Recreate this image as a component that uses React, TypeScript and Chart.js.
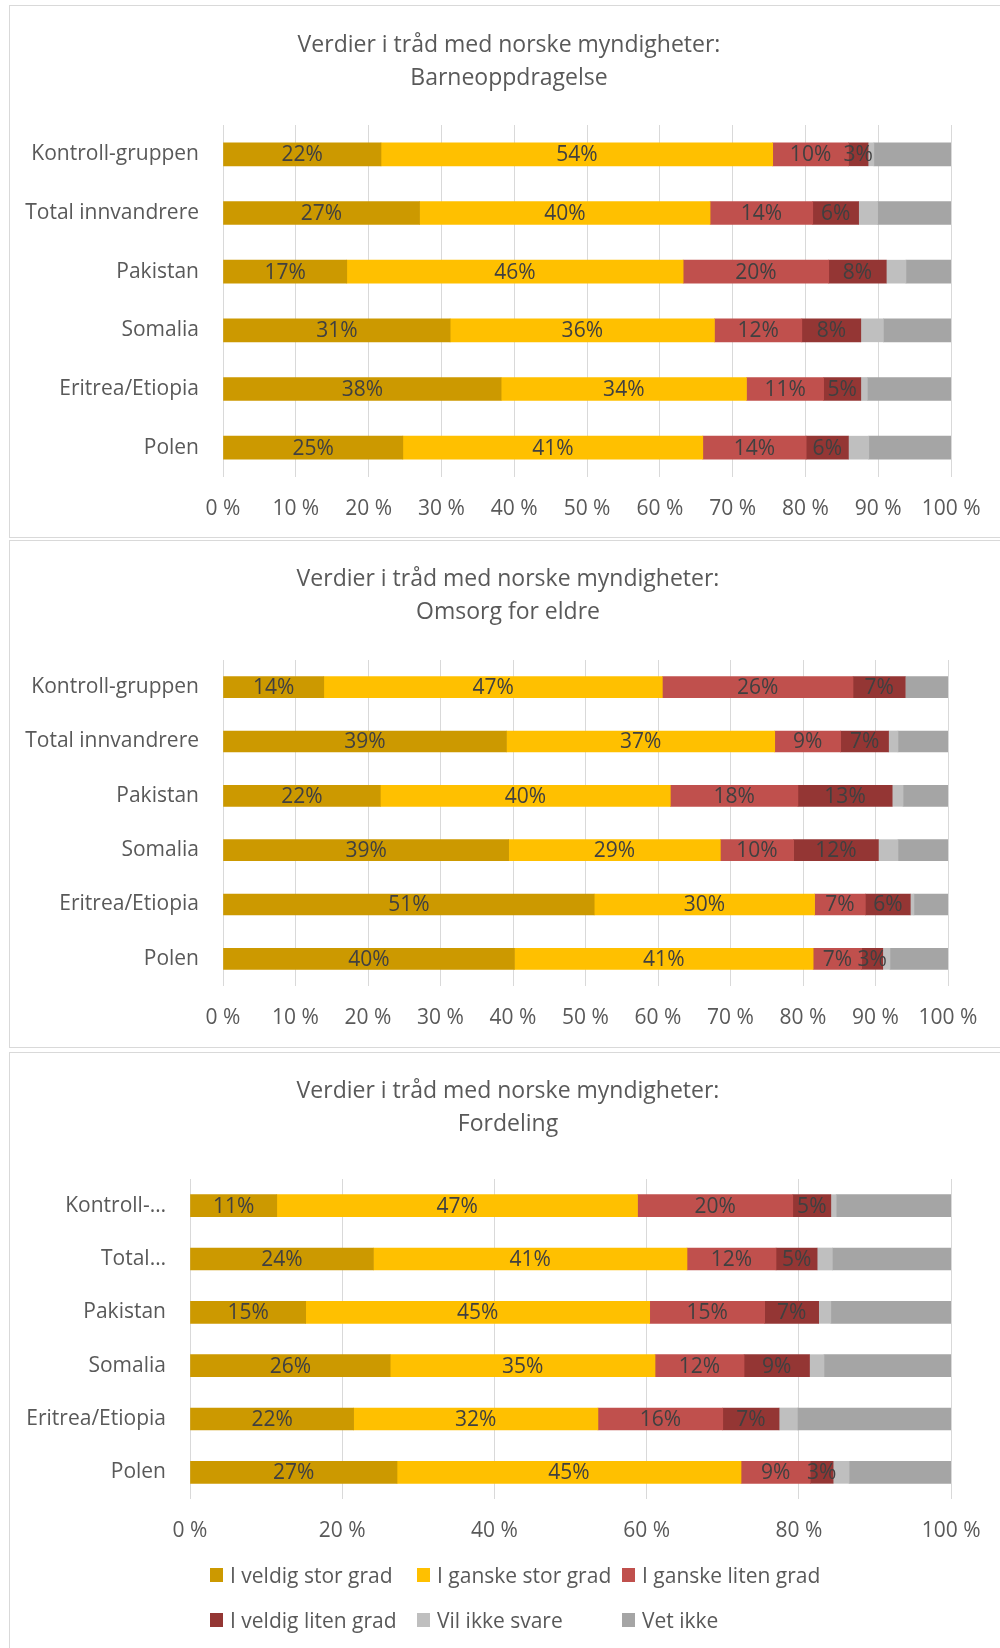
import React, { useEffect, useRef } from "react";
import { Chart, registerables } from "chart.js";

Chart.register(...registerables);

// ---------- data ----------
const categoriesFull = ["Kontroll-gruppen", "Total innvandrere", "Pakistan", "Somalia", "Eritrea/Etiopia", "Polen"];
const categoriesShort = ["Kontroll-…", "Total…", "Pakistan", "Somalia", "Eritrea/Etiopia", "Polen"];

const seriesNames = [
  "I veldig stor grad",
  "I ganske stor grad",
  "I ganske liten grad",
  "I veldig liten grad",
  "Vil ikke svare",
  "Vet ikke",
];
const seriesColors = ["#CC9900", "#FFC000", "#C0504D", "#943634", "#BFBFBF", "#A5A5A5"];

// Barneoppdragelse
const barneVeldigStor = [21.7, 27.0, 17.0, 31.2, 38.2, 24.7];
const barneGanskeStor = [53.8, 39.9, 46.2, 36.3, 33.7, 41.2];
const barneGanskeLiten = [10.4, 14.1, 20.0, 12.0, 10.6, 14.2];
const barneVeldigLiten = [2.7, 6.3, 7.9, 8.1, 5.1, 5.8];
const barneVilIkke = [0.8, 2.6, 2.7, 3.1, 0.9, 2.8];
const barneVetIkke = [10.6, 10.1, 6.2, 9.3, 11.5, 11.3];

// Omsorg for eldre
const omsorgVeldigStor = [13.9, 39.1, 21.7, 39.4, 51.2, 40.2];
const omsorgGanskeStor = [46.7, 37.0, 40.0, 29.2, 30.4, 41.2];
const omsorgGanskeLiten = [26.3, 9.1, 17.6, 10.1, 7.0, 6.7];
const omsorgVeldigLiten = [7.2, 6.6, 13.0, 11.7, 6.2, 2.9];
const omsorgVilIkke = [0.0, 1.3, 1.5, 2.7, 0.5, 1.0];
const omsorgVetIkke = [5.9, 6.9, 6.2, 6.9, 4.7, 8.0];

// Fordeling
const fordVeldigStor = [11.4, 24.1, 15.2, 26.3, 21.5, 27.2];
const fordGanskeStor = [47.4, 41.2, 45.2, 34.8, 32.1, 45.2];
const fordGanskeLiten = [20.4, 11.7, 15.1, 11.7, 16.4, 9.1];
const fordVeldigLiten = [5.0, 5.4, 7.1, 8.6, 7.4, 3.0];
const fordVilIkke = [0.7, 2.0, 1.6, 1.9, 2.4, 2.1];
const fordVetIkke = [15.1, 15.6, 15.8, 16.7, 20.2, 13.4];

const ticks10 = ["0 %", "10 %", "20 %", "30 %", "40 %", "50 %", "60 %", "70 %", "80 %", "90 %", "100 %"];
const ticks20 = ["0 %", "20 %", "40 %", "60 %", "80 %", "100 %"];

const titleLine1 = "Verdier i tråd med norske myndigheter:";

// ---------- styles ----------
const FONT = "'Open Sans', sans-serif";
const TEXT = "#595959";
const LABEL = "#404040";
const GRID = "#D9D9D9";

const dataLabelPlugin = {
  id: "segLabels",
  afterDatasetsDraw(chart: any) {
    const ctx = chart.ctx;
    ctx.save();
    ctx.font = `21px ${FONT}`;
    ctx.fillStyle = LABEL;
    ctx.textAlign = "center";
    ctx.textBaseline = "middle";
    chart.data.datasets.forEach((ds: any, di: number) => {
      if (di > 3) return;
      const meta = chart.getDatasetMeta(di);
      meta.data.forEach((el: any, i: number) => {
        const v = ds.data[i];
        if (v < 2.5) return;
        const cx = (el.x + el.base) / 2;
        ctx.fillText(Math.round(v) + "%", cx, el.y + 1);
      });
    });
    ctx.restore();
  },
};

const centerTitlePlugin = {
  id: "centerTitle",
  afterDraw(chart: any, _args: any, opts: any) {
    const ctx = chart.ctx;
    ctx.save();
    ctx.font = `23px ${FONT}`;
    ctx.fillStyle = TEXT;
    ctx.textAlign = "center";
    ctx.textBaseline = "middle";
    (opts.lines || []).forEach((t: string, i: number) => {
      ctx.fillText(t, opts.cx, opts.y0 + i * opts.lineHeight);
    });
    ctx.restore();
  },
};

type PanelSpec = {
  top: number;
  height: number;
  canvasHeight: number;
  title2: string;
  titleCx: number;
  titleY0: number;
  labels: string[];
  series: number[][];
  ticks: string[];
  step: number;
  yWidth: number;
  rightPad: number;
  topPad: number;
  xHeight: number;
  barThickness: number;
  legend?: boolean;
};

function Panel({ spec }: { spec: PanelSpec }) {
  const ref = useRef<HTMLCanvasElement | null>(null);
  useEffect(() => {
    if (!ref.current) return;
    const chart = new Chart(ref.current, {
      type: "bar",
      data: {
        labels: spec.labels,
        datasets: spec.series.map((s, i) => ({
          label: seriesNames[i],
          data: s,
          backgroundColor: seriesColors[i],
          borderWidth: 0,
          barThickness: spec.barThickness,
        })),
      },
      options: {
        indexAxis: "y",
        animation: false,
        responsive: false,
        maintainAspectRatio: false,
        layout: { padding: { left: 0, right: spec.rightPad, top: spec.topPad, bottom: 0 } },
        plugins: {
          legend: { display: false },
          tooltip: { enabled: false },
          title: { display: false },
          centerTitle: {
            lines: [titleLine1, spec.title2],
            cx: spec.titleCx,
            y0: spec.titleY0,
            lineHeight: 32.5,
          },
        } as any,
        scales: {
          x: {
            stacked: true,
            min: 0,
            max: 100,
            ticks: {
              stepSize: spec.step,
              color: TEXT,
              font: { family: FONT, size: 21 },
              padding: 19.5,
              maxRotation: 0,
              autoSkip: false,
              callback: (_v: any, i: number) => spec.ticks[i],
            },
            grid: { color: GRID, lineWidth: 1, drawTicks: false },
            border: { display: false },
            afterFit: (s: any) => {
              s.height = spec.xHeight;
            },
          },
          y: {
            stacked: true,
            ticks: { color: TEXT, font: { family: FONT, size: 21 }, padding: 24 },
            grid: { display: false, drawTicks: false },
            border: { display: false },
            afterFit: (s: any) => {
              s.width = spec.yWidth;
            },
          },
        },
      },
      plugins: [dataLabelPlugin, centerTitlePlugin],
    });
    return () => chart.destroy();
  }, []);

  return (
    <div
      style={{
        position: "absolute",
        left: 9,
        top: spec.top,
        width: 1010,
        height: spec.height,
        border: `1px solid ${GRID}`,
        boxSizing: "border-box",
        background: "#fff",
      }}
    >
      <canvas ref={ref} width={990} height={spec.canvasHeight} style={{ position: "absolute", left: 0, top: 0 }} />
      {spec.legend && <Legend />}
    </div>
  );
}

function Legend() {
  const cols = [200, 407, 612];
  const rows = [1575 - 1053, 1620 - 1053];
  return (
    <>
      {seriesNames.map((name, i) => {
        const col = i % 3;
        const row = Math.floor(i / 3);
        return (
          <div
            key={name}
            style={{
              position: "absolute",
              left: cols[col],
              top: rows[row] - 14,
              height: 28,
              display: "flex",
              alignItems: "center",
              fontFamily: FONT,
              fontSize: 21,
              color: TEXT,
              whiteSpace: "nowrap",
            }}
          >
            <span style={{ display: "inline-block", width: 13, height: 14, background: seriesColors[i], marginRight: 7 }} />
            {name}
          </div>
        );
      })}
    </>
  );
}

const panels: PanelSpec[] = [
  {
    top: 5,
    height: 533,
    canvasHeight: 531,
    title2: "Barneoppdragelse",
    titleCx: 499,
    titleY0: 39.5,
    labels: categoriesFull,
    series: [barneVeldigStor, barneGanskeStor, barneGanskeLiten, barneVeldigLiten, barneVilIkke, barneVetIkke],
    ticks: ticks10,
    step: 10,
    yWidth: 213,
    rightPad: 46,
    topPad: 119,
    xHeight: 60,
    barThickness: 23,
  },
  {
    top: 540,
    height: 508,
    canvasHeight: 505,
    title2: "Omsorg for eldre",
    titleCx: 498,
    titleY0: 38.5,
    labels: categoriesFull,
    series: [omsorgVeldigStor, omsorgGanskeStor, omsorgGanskeLiten, omsorgVeldigLiten, omsorgVilIkke, omsorgVetIkke],
    ticks: ticks10,
    step: 10,
    yWidth: 213,
    rightPad: 52,
    topPad: 119,
    xHeight: 60,
    barThickness: 21,
  },
  {
    top: 1052,
    height: 700,
    canvasHeight: 595,
    title2: "Fordeling",
    titleCx: 498,
    titleY0: 38.5,
    labels: categoriesShort,
    series: [fordVeldigStor, fordGanskeStor, fordGanskeLiten, fordVeldigLiten, fordVilIkke, fordVetIkke],
    ticks: ticks20,
    step: 20,
    yWidth: 180,
    rightPad: 38,
    topPad: 126,
    xHeight: 149,
    barThickness: 22,
    legend: true,
  },
];

export default function App() {
  return (
    <div
      style={{
        position: "absolute",
        left: 0,
        top: 0,
        width: 1000,
        height: 1648,
        overflow: "hidden",
        background: "#fff",
      }}
    >
      {panels.map((p, i) => (
        <Panel key={i} spec={p} />
      ))}
    </div>
  );
}
